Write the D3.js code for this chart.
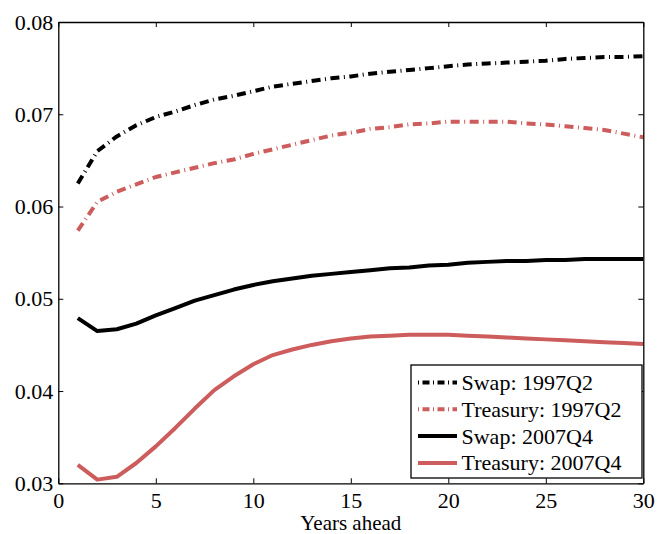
<!DOCTYPE html>
<html>
<head>
<meta charset="utf-8">
<script src="https://cdn.jsdelivr.net/npm/d3@7"></script>
<style>
  body { margin: 0; background: #fff; }
  #main-diagram { width: 659px; height: 534px; }
  svg text { font-family: "Liberation Serif", "DejaVu Serif", "Times New Roman", serif; fill: #000; }
</style>
</head>
<body>
<div id="main-diagram"></div>
<script>
console.log('chart : script is loaded')

// years ahead 1..30
const years = [1, 2, 3, 4, 5, 6, 7, 8, 9, 10, 11, 12, 13, 14, 15,
    16, 17, 18, 19, 20, 21, 22, 23, 24, 25, 26, 27, 28, 29, 30]

const swap1997 = [0.0625, 0.0660, 0.0676, 0.0688, 0.0697, 0.0703, 0.0710, 0.0716, 0.0720, 0.0725,
    0.0730, 0.0733, 0.0736, 0.0739, 0.0741, 0.0744, 0.0746, 0.0748, 0.0750, 0.0752,
    0.0754, 0.0755, 0.0756, 0.0757, 0.0758, 0.0760, 0.0761, 0.0762, 0.0762, 0.0763]

const treasury1997 = [0.0574, 0.0605, 0.0616, 0.0624, 0.0632, 0.0637, 0.0642, 0.0647, 0.0651, 0.0657,
    0.0662, 0.0667, 0.0672, 0.0677, 0.0680, 0.0684, 0.0686, 0.0689, 0.0690, 0.0692,
    0.0692, 0.0692, 0.0692, 0.0690, 0.0689, 0.0687, 0.0685, 0.0683, 0.0679, 0.0675]

const swap2007 = [0.0479, 0.0465, 0.0467, 0.0473, 0.0482, 0.0490, 0.0498, 0.0504, 0.0510, 0.0515,
    0.0519, 0.0522, 0.0525, 0.0527, 0.0529, 0.0531, 0.0533, 0.0534, 0.0536, 0.0537,
    0.0539, 0.0540, 0.0541, 0.0541, 0.0542, 0.0542, 0.0543, 0.0543, 0.0543, 0.0543]

const treasury2007 = [0.0320, 0.0304, 0.0307, 0.0322, 0.0340, 0.0360, 0.0381, 0.0401, 0.0416, 0.0429,
    0.0439, 0.0445, 0.0450, 0.0454, 0.0457, 0.0459, 0.0460, 0.0461, 0.0461, 0.0461,
    0.0460, 0.0459, 0.0458, 0.0457, 0.0456, 0.0455, 0.0454, 0.0453, 0.0452, 0.0451]

const seriesNames = ['Swap: 1997Q2', 'Treasury: 1997Q2', 'Swap: 2007Q4', 'Treasury: 2007Q4']
const xTicks = [0, 5, 10, 15, 20, 25, 30]
const yTicks = [0.03, 0.04, 0.05, 0.06, 0.07, 0.08]

const red = '#cd5c5c'
const dashDot = '9,4.5,1,4.5'
const styles = [
    { color: '#000', dash: dashDot },
    { color: red, dash: dashDot },
    { color: '#000', dash: null },
    { color: red, dash: null }
]
const allSeries = [swap1997, treasury1997, swap2007, treasury2007]

const serif = '"Liberation Serif", "DejaVu Serif", "Times New Roman", serif'

const margin = { top: 22, right: 15.7, bottom: 50.7, left: 58.3 }
const width = 659 - margin.left - margin.right
const height = 534 - margin.top - margin.bottom

const svg = d3.select('#main-diagram')
    .append('svg')
    .attr('width', 659)
    .attr('height', 534)
    .append('g')
    .attr('transform', `translate(${margin.left},${margin.top})`)

const x = d3.scaleLinear().domain([0, 30]).range([0, width])
const y = d3.scaleLinear().domain([0.03, 0.08]).range([height, 0])

// lines (straight segments between yearly points)
const line = d3.line()
    .x((d, i) => x(years[i]))
    .y(d => y(d))

svg.selectAll('.series')
    .data(allSeries)
    .enter()
    .append('path')
    .attr('class', 'series')
    .attr('d', d => line(d))
    .attr('fill', 'none')
    .attr('stroke', (d, i) => styles[i].color)
    .attr('stroke-width', 4)
    .attr('stroke-linejoin', 'round')
    .attr('stroke-dasharray', (d, i) => styles[i].dash)

// box + inward ticks on all four sides
const tickLen = 5
const axes = []
axes.push(svg.append('g')
    .attr('transform', `translate(0,${height})`)
    .call(d3.axisBottom(x).tickValues(xTicks).tickSizeInner(-tickLen).tickSizeOuter(0).tickPadding(9)))
axes.push(svg.append('g')
    .call(d3.axisTop(x).tickValues(xTicks).tickSizeInner(-tickLen).tickSizeOuter(0).tickFormat('')))
axes.push(svg.append('g')
    .call(d3.axisLeft(y).tickValues(yTicks).tickSizeInner(-tickLen).tickSizeOuter(0).tickPadding(5)
        .tickFormat(d3.format('.2f'))))
axes.push(svg.append('g')
    .attr('transform', `translate(${width},0)`)
    .call(d3.axisRight(y).tickValues(yTicks).tickSizeInner(-tickLen).tickSizeOuter(0).tickFormat('')))

axes.forEach(a => a.attr('font-family', serif).attr('font-size', 22))

svg.selectAll('.domain').attr('stroke', '#000').attr('stroke-width', 1.3)
svg.selectAll('.tick line').attr('stroke', '#000').attr('stroke-width', 1)
svg.selectAll('.tick text')
    .attr('font-family', serif)
    .attr('font-size', 22)
    .attr('fill', '#000')

svg.append('text')
    .attr('x', width / 2)
    .attr('y', height + 47)
    .attr('text-anchor', 'middle')
    .attr('font-family', serif)
    .attr('font-size', 21)
    .text('Years ahead')

// legend
const legend = svg.append('g')
    .attr('transform', `translate(${411 - margin.left},${365 - margin.top})`)

legend.append('rect')
    .attr('width', 231)
    .attr('height', 113)
    .attr('fill', '#fff')
    .attr('stroke', '#000')
    .attr('stroke-width', 1.3)

const rows = legend.selectAll('.row')
    .data(seriesNames)
    .enter()
    .append('g')
    .attr('transform', (d, i) => `translate(0,${17.5 + i * 26.8})`)

rows.append('line')
    .attr('x1', 7)
    .attr('x2', 46)
    .attr('stroke', (d, i) => styles[i].color)
    .attr('stroke-width', 4)
    .attr('stroke-dasharray', (d, i) => styles[i].dash ? '1,3.5,7,3.5' : null)

rows.append('text')
    .attr('x', 50.5)
    .attr('y', 7.5)
    .attr('font-family', serif)
    .attr('font-size', 22)
    .text(d => d)
</script>
</body>
</html>
